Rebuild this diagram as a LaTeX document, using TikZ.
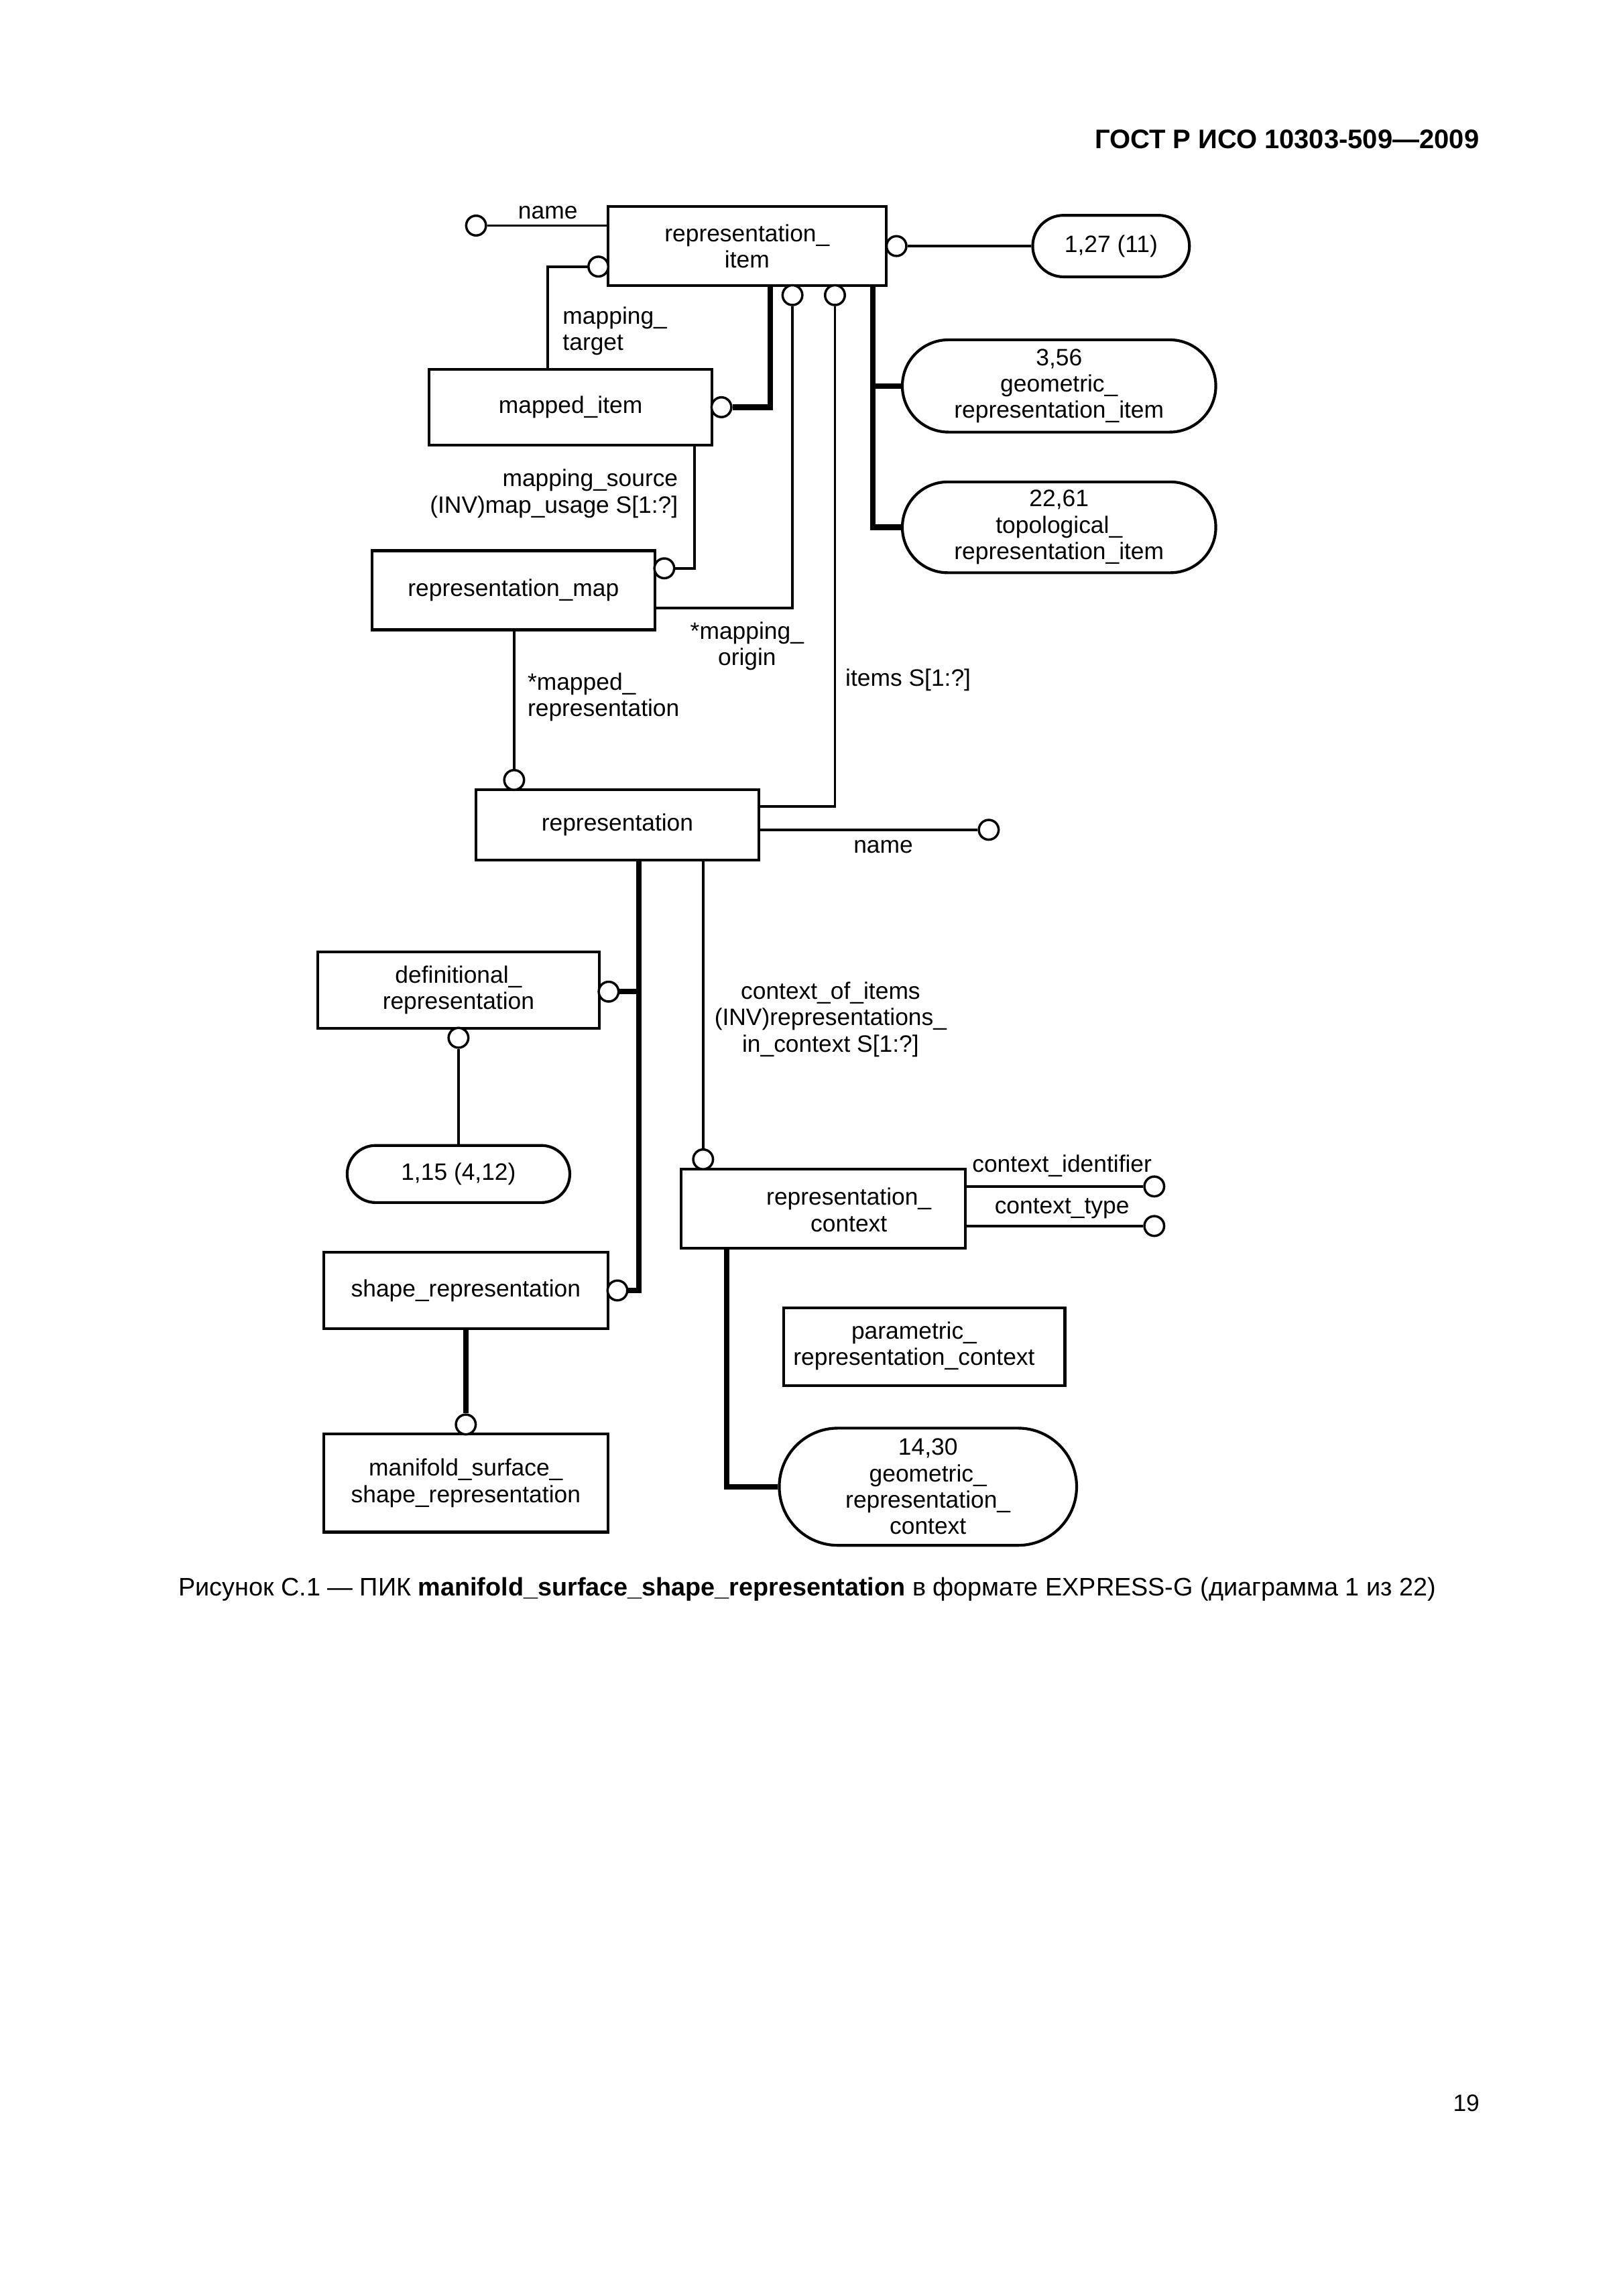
\documentclass[tikz,border=0pt]{standalone}
\usepackage{fontspec}
\setmainfont{Liberation Sans}
\usetikzlibrary{shapes.misc}
\begin{document}
\begin{tikzpicture}[x=1pt,y=-1pt,
  every node/.style={font=\fontsize{16.2}{18}\selectfont},
  ent/.style={draw, line width=1.9pt, rectangle, inner sep=0pt, align=center},
  pill/.style={draw, line width=1.9pt, rounded rectangle, inner sep=0pt, align=center},
  ring/.style={draw, circle, line width=1.6pt, fill=white, minimum size=13.5pt, inner sep=0pt},
  lbl/.style={inner sep=0pt},
  rel/.style={line width=1.7pt},
  sub/.style={line width=3.8pt},
]
\fill[white] (0,0) rectangle (1108,1567.5);
\useasboundingbox (0,0) rectangle (1108,1567.5);

% header
\node[lbl, anchor=east, font=\fontsize{18.3}{20}\selectfont\bfseries] (hdr) at (1010,95) {ГОСТ Р ИСО 10303-509—2009};

% entities
\node[ent, minimum width=190pt, minimum height=54pt] (ri) at (510,168) {representation\_\\item};
\node[ent, minimum width=193pt, minimum height=52pt] (mi) at (389.5,278) {mapped\_item};
\node[ent, minimum width=193pt, minimum height=54pt] (rm) at (350.5,403) {representation\_map};
\node[ent, minimum width=193pt, minimum height=48pt] (rep) at (421.5,563) {representation};
\node[ent, minimum width=192pt, minimum height=52pt] (dr) at (313,676) {definitional\_\\representation};
\node[ent, minimum width=194pt, minimum height=54pt] (rc) at (562,825) {};
\node[lbl, align=center] (rctxt) at (579.5,826) {representation\_\\context};
\node[ent, minimum width=194pt, minimum height=52pt] (sr) at (318,881) {shape\_representation};
\node[ent, minimum width=194pt, minimum height=67pt] (mss) at (318,1012.5) {manifold\_surface\_\\shape\_representation};
\node[ent, minimum width=192pt, minimum height=53pt] (prc) at (631,919.5) {};
\node[lbl, align=center] (prctxt) at (624,919) {parametric\_\\representation\_context};

% page references
\node[pill, minimum width=107pt, minimum height=42pt] (o127) at (758.5,168) {1,27 (11)};
\node[pill, minimum width=214pt, minimum height=63pt] (ogeo) at (723,263.5) {3,56\\geometric\_\\representation\_item};
\node[pill, minimum width=214pt, minimum height=62pt] (otop) at (723,360) {22,61\\topological\_\\representation\_item};
\node[pill, minimum width=152pt, minimum height=39pt] (o115) at (313,801.5) {1,15 (4,12)};
\node[pill, minimum width=203pt, minimum height=80pt] (o1430) at (633.5,1015) {14,30\\geometric\_\\representation\_\\context};

% rings
\node[ring] (cname) at (325,154) {};
\node[ring] (cmt) at (408.5,182) {};
\node[ring] (cr127) at (612,168) {};
\node[ring] (cmi) at (492.5,278) {};
\node[ring] (cmo) at (541,201.5) {};
\node[ring] (cit) at (570,201.5) {};
\node[ring] (cms) at (453.5,388) {};
\node[ring] (cmr) at (351,532.5) {};
\node[ring] (crn) at (675,566.5) {};
\node[ring] (cdr) at (415.5,677) {};
\node[ring] (cdro) at (313,708.5) {};
\node[ring] (cci) at (480,791.5) {};
\node[ring] (ccid) at (788,810) {};
\node[ring] (cct) at (788,837) {};
\node[ring] (csr) at (421.5,881) {};
\node[ring] (cmss) at (318,972.5) {};

% spine coordinates
\coordinate (spRI) at ([xshift=86pt]ri.south);
\coordinate (spR) at ([xshift=14.5pt]rep.south);
\coordinate (spRC) at ([xshift=-66pt]rc.south);

% relationships
\draw[rel] (cname.east) -- (cname -| ri.west);
\draw[rel] (cmt.west) -| ([xshift=-15.5pt]mi.north);
\draw[rel] (cr127.east) -- (o127.west);
\draw[rel] (cmo.south) |- ([yshift=-12pt]rm.east);
\draw[rel] (cit.south) |- ([yshift=12.5pt]rep.east);
\draw[rel] (cms.east) -| ([xshift=84.5pt]mi.south);
\draw[rel] (rm.south -| cmr) -- (cmr.north);
\draw[rel] (crn.west) -- (crn -| rep.east);
\draw[rel] (rep.south -| cci) -- (cci.north);
\draw[rel] (ccid.west) -- (ccid -| rc.east);
\draw[rel] (cct.west) -- (cct -| rc.east);
\draw[rel] (cdro.south) -- (o115.north);

% supertype / subtype (thick)
\draw[sub] ([xshift=16pt]ri.south) |- (cmi.east);
\draw[sub] (spRI) |- (ogeo.west);
\draw[sub] (spRI) |- (otop.west);
\draw[sub] (spR) |- (csr.east);
\draw[sub] (cdr.east) -- (spR |- cdr.east);
\draw[sub] (sr.south) -- (cmss.north);
\draw[sub] (spRC) |- (o1430.west);

% labels
\node[lbl] (lname1) at (374,145) {name};
\node[lbl, anchor=west, align=left] (lmt) at (384,226) {mapping\_\\target};
\node[lbl, anchor=east, align=right] (lms) at (463,337) {mapping\_source\\(INV)map\_usage S[1:?]};
\node[lbl, align=center] (lmo) at (510,441) {*mapping\_\\origin};
\node[lbl, anchor=west, align=left] (lmr) at (360,476) {*mapped\_\\representation};
\node[lbl, anchor=west] (lit) at (577,464) {items S[1:?]};
\node[lbl] (lname2) at (603,578) {name};
\node[lbl, align=center] (lci) at (567,696) {context\_of\_items\\(INV)representations\_\\in\_context S[1:?]};
\node[lbl] (lcid) at (725,796) {context\_identifier};
\node[lbl] (lct) at (725,825) {context\_type};

% caption and page number
\node[lbl, font=\fontsize{17.3}{20}\selectfont] (cap) at (551,1085) {Рисунок С.1 — ПИК \textbf{manifold\_surface\_shape\_representation} в формате EXPRESS-G (диаграмма 1 из 22)};
\node[lbl] (pg) at (1001,1436) {19};
\end{tikzpicture}
\end{document}
